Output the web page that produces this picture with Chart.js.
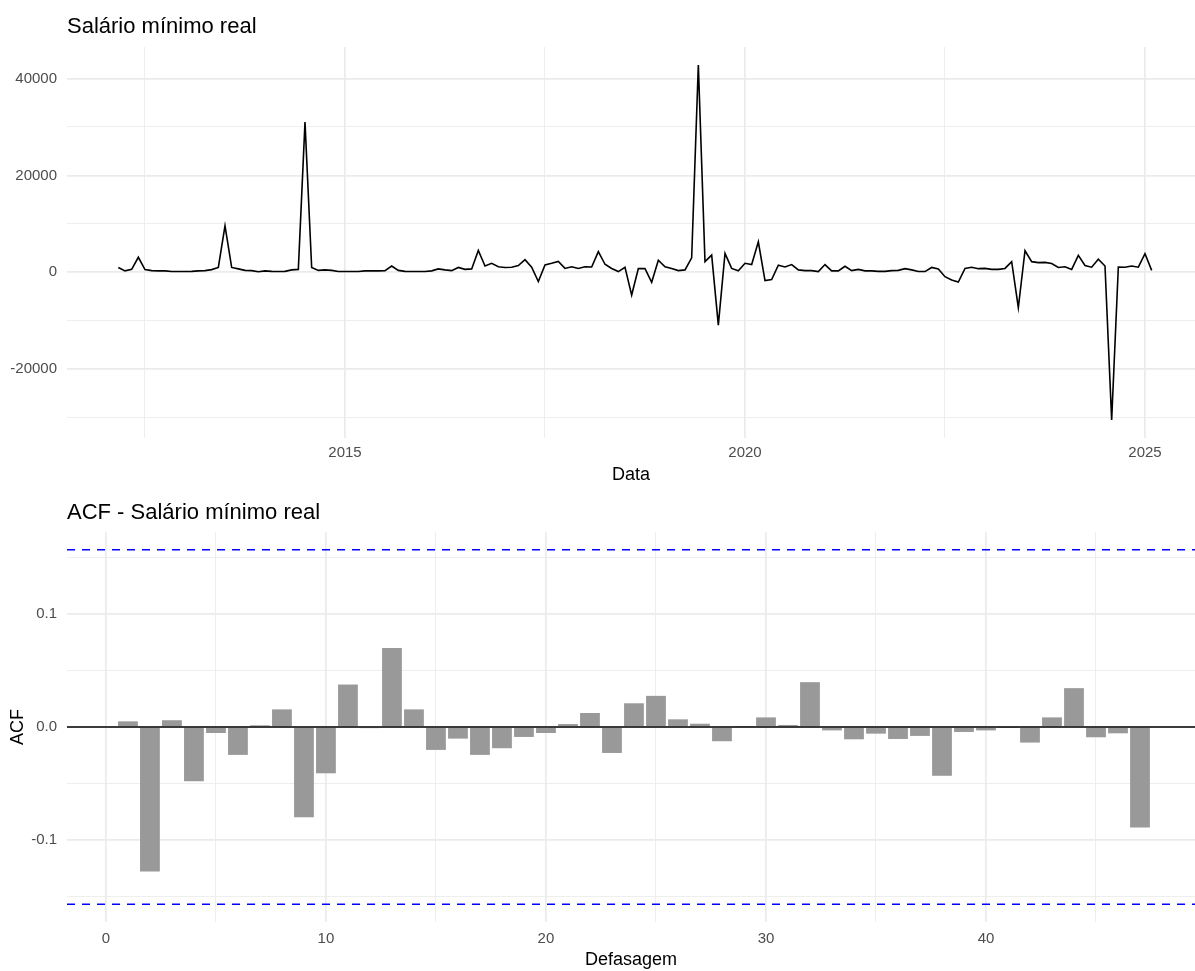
<!DOCTYPE html>
<html>
<head>
<meta charset="utf-8">
<script src="https://cdn.jsdelivr.net/npm/chart.js@4.4.1/dist/chart.umd.min.js"></script>
<style>
  html, body { margin: 0; padding: 0; background: #fff; }
  #wrap { position: relative; width: 1195px; height: 971px; }
  canvas { position: absolute; left: 0; }
  #serie { top: 0; }
  #acf { top: 490px; }
</style>
</head>
<body>
<div id="wrap">
  <canvas id="serie" width="1195" height="490"></canvas>
  <canvas id="acf" width="1195" height="481"></canvas>
</div>
<script>
// serie mensal, de mar/2012 a fev/2025
const startYear = 2012;
const startMonth = 3;
const salario = [
  1000, 300, 600, 3100, 550, 350, 300, 300, 150, 150,
  150, 200, 300, 350, 550, 1000, 9600, 1000, 700, 400,
  350, 100, 300, 200, 150, 200, 500, 600, 31000, 1000,
  400, 500, 400, 150, 150, 150, 150, 300, 300, 300,
  350, 1300, 400, 200, 150, 150, 150, 300, 700, 500,
  350, 1000, 600, 700, 4500, 1300, 1850, 1150, 1000, 1050,
  1400, 2600, 1050, -1900, 1500, 1850, 2250, 800, 1150, 800,
  1150, 1100, 4250, 1650, 800, 150, 1050, -4700, 750, 750,
  -2050, 2500, 1150, 800, 350, 500, 3000, 42800, 2200, 3550,
  -10900, 3900, 800, 300, 1850, 1600, 6300, -1700, -1500, 1450,
  1100, 1600, 500, 350, 350, 150, 1600, 300, 300, 1250,
  350, 600, 300, 300, 200, 200, 350, 400, 750, 500,
  150, 150, 1000, 700, -900, -1600, -2000, 800, 1050, 750,
  800, 600, 600, 800, 2200, -7300, 4450, 2200, 2000, 2050,
  1800, 1000, 1150, 600, 3500, 1400, 1050, 2700, 1300, -30500,
  1100, 1050, 1300, 1050, 3850, 400
];

const lags = [
  1, 2, 3, 4, 5, 6, 7, 8, 9, 10, 11, 12, 13, 14, 15, 16, 17, 18, 19, 20,
  21, 22, 23, 24, 25, 26, 27, 28, 29, 30, 31, 32, 33, 34, 35, 36, 37, 38, 39, 40,
  41, 42, 43, 44, 45, 46, 47
];
const acfValores = [
  0.005, -0.128, 0.006, -0.048, -0.0053, -0.0247, 0.0015, 0.0156, -0.080, -0.041,
  0.0376, -0.001, 0.070, 0.0156, -0.0203, -0.0103, -0.0247, -0.0188, -0.0088, -0.0053,
  0.0026, 0.0124, -0.023, 0.021, 0.0276, 0.0068, 0.0029, -0.0126, 0.0003, 0.0085,
  0.0018, 0.0397, -0.003, -0.0109, -0.0059, -0.0106, -0.0079, -0.0432, -0.0044, -0.003,
  -0.0003, -0.0138, 0.0085, 0.0344, -0.0091, -0.0056, -0.089
];
const limiteIC = 0.157;

const anosTicks = [2012.5, 2015, 2017.5, 2020, 2022.5, 2025];
const anosRotulos = [2015, 2020, 2025];
const valorTicks = [-30000, -20000, -10000, 0, 10000, 20000, 30000, 40000];
const valorRotulos = [-20000, 0, 20000, 40000];
const lagTicks = [0, 5, 10, 15, 20, 25, 30, 35, 40, 45];
const lagRotulos = [0, 10, 20, 30, 40];
const acfTicks = [-0.15, -0.1, -0.05, 0, 0.05, 0.1, 0.15];
const acfRotulos = [-0.1, 0, 0.1];

const FONTE = '"Liberation Sans", Arial, sans-serif';
const GRADE = '#EBEBEB';
const TEXTO_EIXO = '#4D4D4D';

const ehRotulo = (lista, v) => lista.some(r => Math.abs(r - v) < 1e-9);

const panelTitle = {
  id: 'panelTitle',
  afterDraw(chart, args, opts) {
    const { ctx, chartArea } = chart;
    ctx.save();
    ctx.font = '22px ' + FONTE;
    ctx.fillStyle = '#000';
    ctx.textBaseline = 'middle';
    ctx.textAlign = 'left';
    ctx.fillText(opts.text, chartArea.left, opts.y);
    ctx.restore();
  }
};

// eixo no estilo theme_minimal: grade principal mais grossa, secundaria fina
function eixo(ticks, rotulos, fmt, padding, extra) {
  return Object.assign({
    type: 'linear',
    offset: false,
    border: { display: false },
    afterBuildTicks: s => { s.ticks = ticks.map(v => ({ value: v })); },
    grid: {
      color: GRADE,
      offset: false,
      drawTicks: false,
      lineWidth: c => (c.tick && ehRotulo(rotulos, c.tick.value)) ? 1.7 : 0.85
    },
    ticks: {
      autoSkip: false,
      maxRotation: 0,
      padding: padding,
      color: TEXTO_EIXO,
      font: { family: FONTE, size: 15 },
      callback: v => ehRotulo(rotulos, v) ? fmt(v) : ''
    }
  }, extra);
}

const pontos = salario.map((v, i) => ({
  x: startYear + (startMonth - 1 + i) / 12,
  y: v
}));

new Chart(document.getElementById('serie'), {
  type: 'line',
  data: {
    datasets: [{
      data: pontos,
      borderColor: '#000',
      borderWidth: 1.6,
      pointRadius: 0,
      tension: 0,
      fill: false
    }]
  },
  options: {
    responsive: false,
    animation: false,
    devicePixelRatio: 1,
    layout: { padding: { top: 47, left: 0, right: 0, bottom: 0 } },
    plugins: {
      legend: { display: false },
      tooltip: { enabled: false },
      panelTitle: { text: 'Salário mínimo real', y: 27 }
    },
    scales: {
      x: eixo(anosTicks, anosRotulos, v => String(v), 6, {
        min: 2011.525,
        max: 2025.625,
        afterFit: s => { s.height = 52; },
        title: {
          display: true,
          text: 'Data',
          color: '#000',
          font: { family: FONTE, size: 18 },
          padding: { top: 0, bottom: 4 }
        }
      }),
      y: eixo(valorTicks, valorRotulos, v => String(v), 10, {
        min: -34200,
        max: 46500,
        afterFit: s => { s.width = 67; }
      })
    }
  },
  plugins: [panelTitle]
});

const linhaIC = v => [{ x: -1.77, y: v }, { x: 49.5, y: v }];

new Chart(document.getElementById('acf'), {
  type: 'bar',
  data: {
    datasets: [
      {
        type: 'line',
        data: [{ x: -1.77, y: 0 }, { x: 49.5, y: 0 }],
        borderColor: '#000',
        borderWidth: 1.6,
        pointRadius: 0,
        order: 1
      },
      {
        type: 'line',
        data: linhaIC(limiteIC),
        borderColor: '#0000FF',
        borderWidth: 1.5,
        borderDash: [8, 7],
        pointRadius: 0,
        order: 0
      },
      {
        type: 'line',
        data: linhaIC(-limiteIC),
        borderColor: '#0000FF',
        borderWidth: 1.5,
        borderDash: [8, 7],
        pointRadius: 0,
        order: 0
      },
      {
        type: 'bar',
        data: lags.map((l, i) => ({ x: l, y: acfValores[i] })),
        backgroundColor: '#999999',
        borderWidth: 0,
        barPercentage: 0.9,
        categoryPercentage: 1.0,
        order: 2
      }
    ]
  },
  options: {
    responsive: false,
    animation: false,
    devicePixelRatio: 1,
    layout: { padding: { top: 42, left: 0, right: 0, bottom: 0 } },
    plugins: {
      legend: { display: false },
      tooltip: { enabled: false },
      panelTitle: { text: 'ACF - Salário mínimo real', y: 23 }
    },
    scales: {
      x: eixo(lagTicks, lagRotulos, v => String(v), 8, {
        min: -1.77,
        max: 49.5,
        afterFit: s => { s.height = 49; },
        title: {
          display: true,
          text: 'Defasagem',
          color: '#000',
          font: { family: FONTE, size: 18 },
          padding: { top: 0, bottom: 0 }
        }
      }),
      y: eixo(acfTicks, acfRotulos, v => (Math.abs(v) < 1e-9 ? '0.0' : v.toFixed(1)), 10, {
        min: -0.1727,
        max: 0.1727,
        afterFit: s => { s.width = 67; },
        title: {
          display: true,
          text: 'ACF',
          color: '#000',
          font: { family: FONTE, size: 18 },
          padding: { top: 7, bottom: 0 }
        }
      })
    }
  },
  plugins: [panelTitle]
});
</script>
</body>
</html>
